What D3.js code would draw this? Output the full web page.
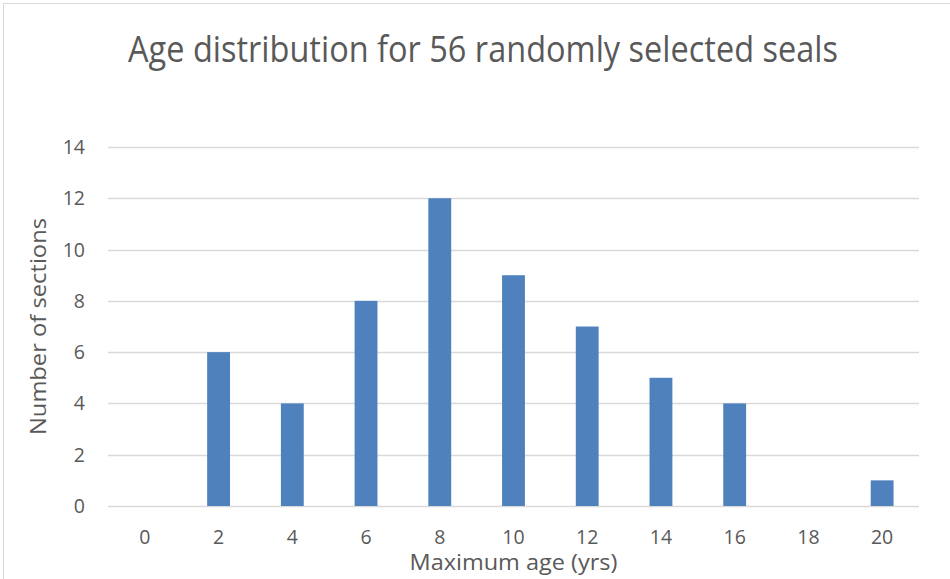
<!DOCTYPE html>
<html>
<head>
<meta charset="utf-8">
<script src="https://cdn.jsdelivr.net/npm/d3@7"></script>
<style>
  body { margin: 0; background: #fff; }
  text { font-family: "Open Sans", sans-serif; fill: #595959; }
</style>
</head>
<body>
<div id="chart"></div>
<script>
var ages = [0, 2, 4, 6, 8, 10, 12, 14, 16, 18, 20];
var counts = [0, 6, 4, 8, 12, 9, 7, 5, 4, 0, 1];
var yTicks = [0, 2, 4, 6, 8, 10, 12, 14];

var title = "Age distribution for 56 randomly selected seals";
var xTitle = "Maximum age (yrs)";
var yTitle = "Number of sections";

var width = 950;
var height = 579;

margin = { top: 147, right: 31, bottom: 73, left: 108 };

var svg = d3.select("#chart")
  .append("svg")
  .attr("width", width)
  .attr("height", height);

// chart frame (cut off on right and bottom)
svg.append("rect")
  .attr("x", 3.5).attr("y", 3.5)
  .attr("width", width + 10).attr("height", height + 10)
  .attr("fill", "none")
  .attr("stroke", "#d9d9d9");

var x = d3.scaleBand()
  .domain(ages)
  .range([margin.left, width - margin.right])
  .paddingInner(0.69)
  .paddingOuter(0.345);

var y = d3.scaleLinear()
  .domain([0, 14])
  .range([height - margin.bottom, margin.top]);

// gridlines
svg.append("g")
  .selectAll("line")
  .data(yTicks)
  .join("line")
  .attr("x1", margin.left)
  .attr("x2", width - margin.right)
  .attr("y1", (d) => Math.round(y(d)) + 0.5)
  .attr("y2", (d) => Math.round(y(d)) + 0.5)
  .attr("stroke", "#d9d9d9")
  .attr("stroke-width", 1.5);

// y labels
svg.append("g")
  .selectAll("text")
  .data(yTicks)
  .join("text")
  .attr("x", 85)
  .attr("y", (d) => y(d))
  .attr("dy", "0.36em")
  .attr("text-anchor", "end")
  .attr("font-size", 19.5)
  .text((d) => d);

// bars
svg.append("g")
  .selectAll("rect")
  .data(counts)
  .join("rect")
  .attr("x", (d, i) => x(ages[i]))
  .attr("y", (d) => y(d))
  .attr("width", x.bandwidth())
  .attr("height", (d) => y(0) - y(d))
  .attr("fill", "#4f81bd");

// x labels
svg.append("g")
  .selectAll("text")
  .data(ages)
  .join("text")
  .attr("x", (d) => x(d) + x.bandwidth() / 2)
  .attr("y", 537)
  .attr("dy", "0.36em")
  .attr("text-anchor", "middle")
  .attr("font-size", 19.5)
  .text((d) => d);

// titles
svg.append("text")
  .attr("x", 483)
  .attr("y", 62)
  .attr("text-anchor", "middle")
  .attr("font-size", 36)
  .attr("textLength", 710)
  .attr("lengthAdjust", "spacingAndGlyphs")
  .text(title);

svg.append("text")
  .attr("x", (margin.left + width - margin.right) / 2)
  .attr("y", 570)
  .attr("text-anchor", "middle")
  .attr("font-size", 21)
  .attr("textLength", 208)
  .attr("lengthAdjust", "spacingAndGlyphs")
  .text(xTitle);

svg.append("text")
  .attr("transform", "translate(46," + ((margin.top + height - margin.bottom) / 2) + ") rotate(-90)")
  .attr("text-anchor", "middle")
  .attr("font-size", 21)
  .attr("textLength", 217)
  .attr("lengthAdjust", "spacingAndGlyphs")
  .text(yTitle);
</script>
</body>
</html>
